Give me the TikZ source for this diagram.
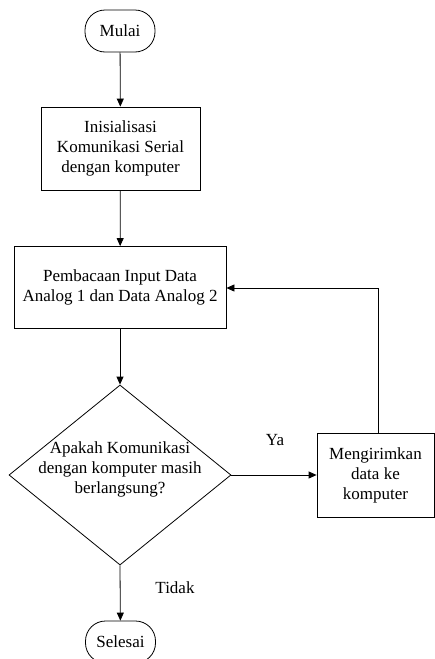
\documentclass[tikz,border=0pt]{standalone}
\usepackage{fontspec}
\setmainfont{Liberation Serif}
\usetikzlibrary{shapes.geometric,arrows.meta}
\begin{document}
\begin{tikzpicture}[x=1pt,y=1pt,
  every node/.style={font=\fontsize{17}{20}\selectfont, align=center},
  term/.style={draw, line width=0.8pt, rectangle, rounded corners=20pt, minimum width=70pt, minimum height=42pt, inner sep=0pt},
  proc/.style={draw, line width=0.8pt, rectangle, inner sep=0pt},
  dec/.style={draw, line width=0.8pt, diamond, inner sep=0pt, minimum width=222pt, minimum height=180pt},
  conn/.style={line width=0.8pt, -{Triangle[length=8pt,width=7pt]}},
  lab/.style={inner sep=0pt}]
\useasboundingbox (0,0) rectangle (435,-659);
\clip (0,0) rectangle (435,-659);
\node[term] (mulai) at (120,-31) {Mulai};
\node[proc, minimum width=159pt, minimum height=83pt] (init) at (120.5,-148.5) {Inisialisasi\\Komunikasi Serial\\dengan komputer};
\node[proc, minimum width=212pt, minimum height=82pt] (baca) at (120,-287.5) {Pembacaan Input Data\\Analog 1 dan Data Analog 2};
\node[dec] (cek) at (120,-475) {};
\node[lab] (cektext) at (120,-469) {Apakah Komunikasi\\dengan komputer masih\\berlangsung?};
\node[proc, minimum width=117pt, minimum height=84pt] (kirim) at (375.5,-475) {Mengirimkan\\data ke\\komputer};
\node[term] (selesai) at (120.5,-642) {Selesai};
\node[lab] (ya) at (275,-440) {Ya};
\node[lab] (tidak) at (175,-588) {Tidak};
\coordinate (corner) at (378,-288);
\draw[conn] (mulai) -- (init);
\draw[conn] (init) -- (baca);
\draw[conn] (baca) -- (cek);
\draw[conn] (cek.east) -- (kirim.west);
\draw[conn] (cek.south) -- (selesai);
\draw[conn] (kirim.north -| corner) -- (corner) -- (baca.east |- corner);
\end{tikzpicture}
\end{document}
